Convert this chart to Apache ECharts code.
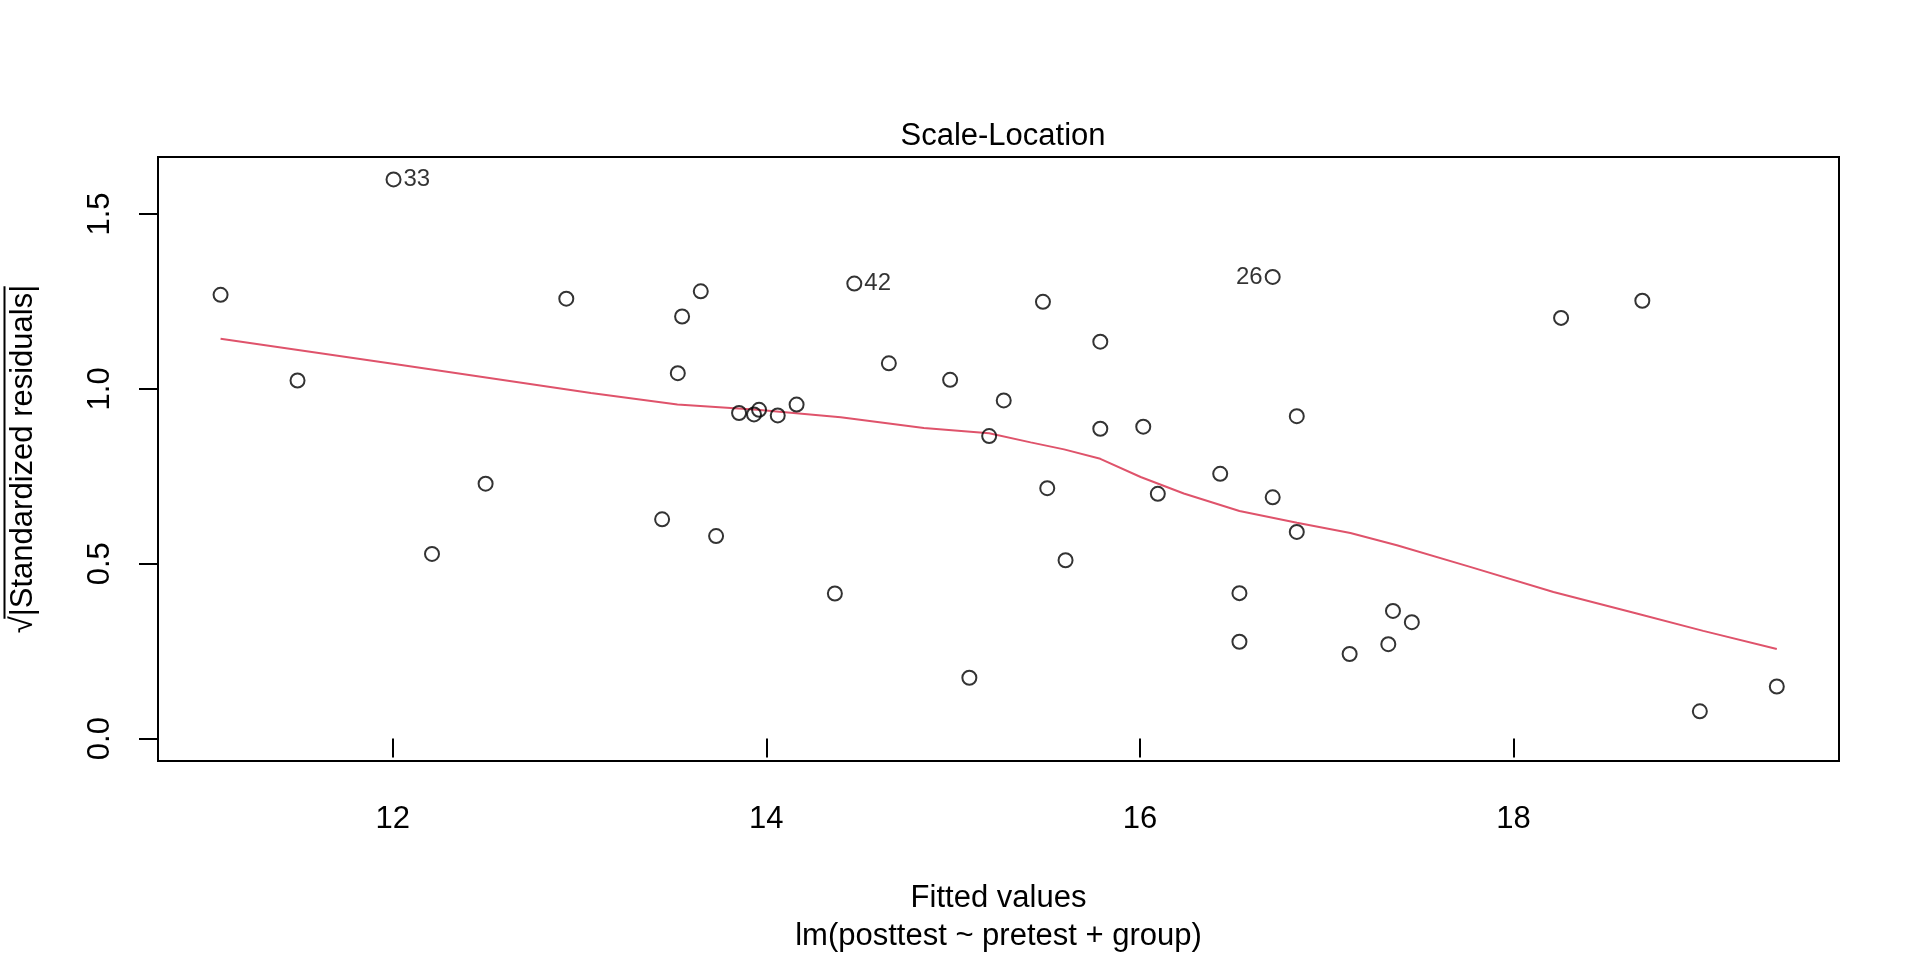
<!DOCTYPE html>
<html>
<head>
<meta charset="utf-8">
<script src="https://cdn.jsdelivr.net/npm/echarts@6/dist/echarts.min.js"></script>
<style>
  html, body { margin: 0; padding: 0; background: #fff; }
  #main { width: 1920px; height: 960px; }
</style>
</head>
<body>
<div id="main"></div>
<script>
// fitted values and sqrt(|standardized residuals|)
var fittedValues = [11.078, 11.490, 12.004, 12.210, 12.497, 12.929, 13.442, 13.526, 13.549, 13.649,
  13.731, 13.854, 13.934, 13.961, 14.061, 14.162, 14.367, 14.471, 14.656, 14.984,
  15.087, 15.193, 15.271, 15.481, 15.504, 15.602, 15.788, 15.788, 16.018, 16.096,
  16.430, 16.533, 16.533, 16.711, 16.711, 16.840, 16.840, 17.123, 17.330, 17.355,
  17.456, 18.255, 18.690, 18.998, 19.410];
var sqrtStdResid = [1.269, 1.024, 1.599, 0.528, 0.729, 1.258, 0.627, 1.045, 1.207, 1.279,
  0.579, 0.931, 0.927, 0.940, 0.924, 0.955, 0.415, 1.301, 1.073, 1.026,
  0.174, 0.865, 0.967, 1.249, 0.716, 0.510, 1.135, 0.886, 0.892, 0.700,
  0.757, 0.416, 0.277, 1.320, 0.690, 0.922, 0.591, 0.242, 0.270, 0.365,
  0.333, 1.203, 1.252, 0.078, 0.149];

// labelled observations: index into the arrays above, and the id shown
var idIndex = [2, 17, 33];
var idText = ['33', '42', '26'];

// smoother (red line)
var smoothX = [11.078, 12.0, 13.061, 13.524, 13.952, 14.398, 14.843, 15.193, 15.415, 15.594,
  15.788, 16.004, 16.235, 16.533, 16.841, 17.127, 17.376, 17.768, 18.214, 18.660, 19.016, 19.410];
var smoothY = [1.143, 1.072, 0.988, 0.955, 0.940, 0.919, 0.888, 0.873, 0.847, 0.827,
  0.800, 0.748, 0.701, 0.651, 0.617, 0.588, 0.553, 0.491, 0.419, 0.358, 0.308, 0.256];

var xTicks = [12, 14, 16, 18];
var yTicks = [0, 0.5, 1.0, 1.5];

var mainTitle = 'Scale-Location';
var xTitle = 'Fitted values';
var subCaption = 'lm(posttest ~ pretest + group)';
var yTitle = '\u221A|Standardized residuals|';

var FONT = '"Liberation Sans", Arial, Helvetica, sans-serif';
var GRID = { left: 157, right: 81, top: 157, bottom: 196 };

var xMid = (Math.min.apply(null, fittedValues) + Math.max.apply(null, fittedValues)) / 2;

var points = fittedValues.map(function (x, i) {
  var p = { value: [x, sqrtStdResid[i]] };
  var k = idIndex.indexOf(i);
  if (k >= 0) {
    p.label = {
      show: true,
      formatter: idText[k],
      position: x > xMid ? 'left' : 'right',
      distance: 2,
      color: '#000',
      fontSize: 24,
      fontFamily: FONT
    };
  }
  return p;
});

var smoothData = smoothX.map(function (x, i) { return [x, smoothY[i]]; });

// overline of the square root in the y title (text decoration only)
var ctx = document.createElement('canvas').getContext('2d');
ctx.font = '31px ' + FONT;
var titleW = ctx.measureText(yTitle).width;
var rootW = ctx.measureText('\u221A').width;
var yCenter = GRID.top + (960 - GRID.top - GRID.bottom) / 2;

var chart = echarts.init(document.getElementById('main'));
chart.setOption({
  animation: false,
  backgroundColor: '#fff',
  title: {
    text: mainTitle,
    left: 998,
    textAlign: 'center',
    top: 116,
    textStyle: { fontFamily: FONT, fontSize: 31, fontWeight: 'normal', color: '#000' }
  },
  grid: {
    left: GRID.left, right: GRID.right, top: GRID.top, bottom: GRID.bottom,
    show: true, borderColor: '#000', borderWidth: 2, backgroundColor: 'transparent'
  },
  graphic: [{
    type: 'line',
    shape: { x1: 4.5, y1: yCenter + titleW / 2 - rootW + 1, x2: 4.5, y2: yCenter - titleW / 2 },
    style: { stroke: '#000', lineWidth: 2 }
  }],
  xAxis: {
    type: 'value',
    min: 10.743, max: 19.743,
    name: xTitle + '\n' + subCaption,
    nameLocation: 'middle',
    nameGap: 118,
    nameTextStyle: { fontFamily: FONT, fontSize: 31, color: '#000', lineHeight: 38 },
    axisLine: { show: false },
    splitLine: { show: false },
    axisTick: { show: true, inside: false, length: 19, customValues: xTicks, lineStyle: { color: '#000', width: 2 } },
    axisLabel: {
      customValues: xTicks, margin: 43,
      fontFamily: FONT, fontSize: 31, color: '#000', lineHeight: 31,
      formatter: function (v) { return String(v); }
    }
  },
  yAxis: {
    type: 'value',
    min: -0.064, max: 1.663,
    name: yTitle,
    nameLocation: 'middle',
    nameGap: 119,
    nameRotate: 90,
    nameTextStyle: { fontFamily: FONT, fontSize: 31, color: '#000' },
    axisLine: { show: false },
    splitLine: { show: false },
    axisTick: { show: true, inside: false, length: 19, customValues: yTicks, lineStyle: { color: '#000', width: 2 } },
    axisLabel: {
      customValues: yTicks, margin: 42, rotate: 90,
      fontFamily: FONT, fontSize: 31, color: '#000',
      formatter: function (v) { return v.toFixed(1); }
    }
  },
  series: [
    {
      type: 'line',
      data: smoothData,
      showSymbol: false,
      symbol: 'none',
      lineStyle: { color: '#DF536B', width: 2 },
      z: 2
    },
    {
      type: 'scatter',
      data: points,
      symbol: 'circle',
      symbolSize: 14,
      itemStyle: { color: 'rgba(255,255,255,0)', borderColor: '#000', borderWidth: 2 },
      z: 3
    }
  ]
});
</script>
</body>
</html>
